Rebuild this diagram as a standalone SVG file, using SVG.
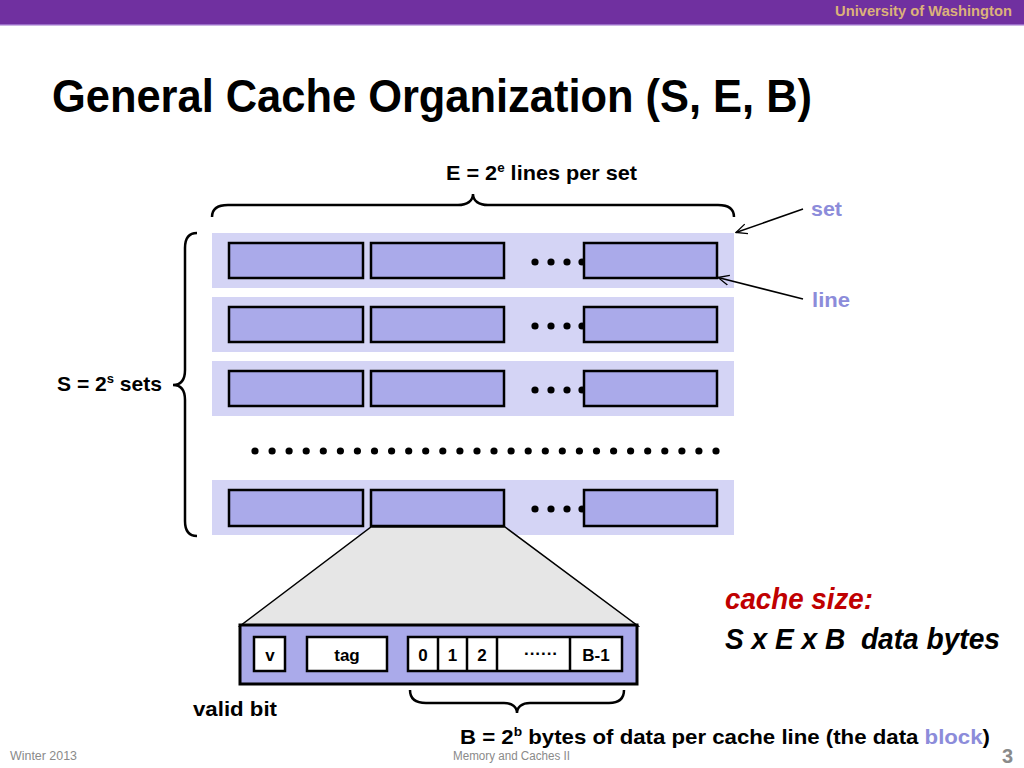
<svg xmlns="http://www.w3.org/2000/svg" width="1024" height="768" viewBox="0 0 1024 768">
<defs>
<style>
.t{font-family:"Liberation Sans",Arial,sans-serif;font-weight:bold;fill:#000}
.set{fill:#d4d4f5}
.ln{fill:#aaaaea;stroke:#000;stroke-width:2.5}
.wb{fill:#fff;stroke:#000;stroke-width:2.5}
.br{fill:none;stroke:#000;stroke-width:2.5}
.lab{fill:#8c8cda}
.ft{font-family:"Liberation Sans",Arial,sans-serif;fill:#8a8a8a}
</style>
<marker id="ah" viewBox="0 0 12 12" refX="11" refY="6" markerWidth="12" markerHeight="12" markerUnits="userSpaceOnUse" orient="auto">
<path d="M0,1 L11,6 L0,11" fill="none" stroke="#000" stroke-width="1.3"/>
</marker>
<g id="dots3">
<circle cx="535" cy="0" r="3.6"/><circle cx="551" cy="0" r="3.6"/><circle cx="567" cy="0" r="3.6"/><circle cx="582" cy="0" r="3.6"/>
</g>
</defs>
<rect width="1024" height="768" fill="#fff"/>
<g id="header">
<rect x="0" y="0" width="1024" height="24" fill="#7030a0"/>
<rect x="0" y="24" width="1024" height="1.5" fill="#9a6cc8"/>
<text x="1012" y="16" class="t" font-size="15" style="fill:#dcb27a" text-anchor="end" textLength="177" lengthAdjust="spacingAndGlyphs">University of Washington</text>
</g>
<text x="52" y="112" class="t" font-size="46" textLength="760" lengthAdjust="spacingAndGlyphs">General Cache Organization (S, E, B)</text>

<g id="set1">
<rect class="set" x="212" y="233" width="522" height="55"/>
<use href="#dots3" y="262"/>
<rect class="ln" x="229" y="243" width="134" height="35"/>
<rect class="ln" x="371" y="243" width="133" height="35"/>
<rect class="ln" x="584" y="243" width="133" height="35"/>
</g>
<g id="set2">
<rect class="set" x="212" y="297" width="522" height="55"/>
<use href="#dots3" y="326"/>
<rect class="ln" x="229" y="307" width="134" height="35"/>
<rect class="ln" x="371" y="307" width="133" height="35"/>
<rect class="ln" x="584" y="307" width="133" height="35"/>
</g>
<g id="set3">
<rect class="set" x="212" y="361" width="522" height="55"/>
<use href="#dots3" y="390"/>
<rect class="ln" x="229" y="371" width="134" height="35"/>
<rect class="ln" x="371" y="371" width="133" height="35"/>
<rect class="ln" x="584" y="371" width="133" height="35"/>
</g>
<g id="vdots">
<circle cx="255" cy="451" r="3.6"/><circle cx="272.1" cy="451" r="3.6"/><circle cx="289.1" cy="451" r="3.6"/><circle cx="306.2" cy="451" r="3.6"/><circle cx="323.3" cy="451" r="3.6"/><circle cx="340.4" cy="451" r="3.6"/><circle cx="357.4" cy="451" r="3.6"/><circle cx="374.5" cy="451" r="3.6"/><circle cx="391.6" cy="451" r="3.6"/><circle cx="408.7" cy="451" r="3.6"/><circle cx="425.7" cy="451" r="3.6"/><circle cx="442.8" cy="451" r="3.6"/><circle cx="459.9" cy="451" r="3.6"/><circle cx="477" cy="451" r="3.6"/><circle cx="494" cy="451" r="3.6"/><circle cx="511.1" cy="451" r="3.6"/><circle cx="528.2" cy="451" r="3.6"/><circle cx="545.3" cy="451" r="3.6"/><circle cx="562.3" cy="451" r="3.6"/><circle cx="579.4" cy="451" r="3.6"/><circle cx="596.5" cy="451" r="3.6"/><circle cx="613.6" cy="451" r="3.6"/><circle cx="630.6" cy="451" r="3.6"/><circle cx="647.7" cy="451" r="3.6"/><circle cx="664.8" cy="451" r="3.6"/><circle cx="681.9" cy="451" r="3.6"/><circle cx="698.9" cy="451" r="3.6"/><circle cx="716" cy="451" r="3.6"/>
</g>
<g id="setN">
<rect class="set" x="212" y="480" width="522" height="55"/>
<use href="#dots3" y="509"/>
<rect class="ln" x="229" y="490" width="134" height="36"/>
<rect class="ln" x="371" y="490" width="133" height="36"/>
<rect class="ln" x="584" y="490" width="133" height="36"/>
</g>

<g id="expand">
<polygon points="371,527 505,527 638,626 240,626" fill="#e6e6e6" stroke="#000" stroke-width="1.5"/>
</g>
<g id="line-detail">
<rect x="240" y="625" width="397" height="59" fill="#aaaaea" stroke="#000" stroke-width="3"/>
<rect class="wb" x="254" y="637" width="31" height="34"/>
<rect class="wb" x="307" y="637" width="80" height="34"/>
<rect class="wb" x="408" y="637" width="214" height="34"/>
<line x1="438" y1="637" x2="438" y2="671" stroke="#000" stroke-width="2.5"/>
<line x1="467" y1="637" x2="467" y2="671" stroke="#000" stroke-width="2.5"/>
<line x1="497" y1="637" x2="497" y2="671" stroke="#000" stroke-width="2.5"/>
<line x1="570" y1="637" x2="570" y2="671" stroke="#000" stroke-width="2.5"/>
<text class="t" font-size="17" text-anchor="middle" x="270" y="661">v</text>
<text class="t" font-size="17" text-anchor="middle" x="347" y="661">tag</text>
<text class="t" font-size="17" text-anchor="middle" x="423" y="661">0</text>
<text class="t" font-size="17" text-anchor="middle" x="452.5" y="661">1</text>
<text class="t" font-size="17" text-anchor="middle" x="482" y="661">2</text>
<text class="t" font-size="17" text-anchor="middle" x="541" y="659">······</text>
<text class="t" font-size="17" text-anchor="middle" x="596" y="661">B-1</text>
</g>

<g id="braces">
<path class="br" d="M212,217 C212,209 218,205 228,205 L458,205 C467,205 473,201 473,194 C473,201 479,205 488,205 L718,205 C728,205 734,209 734,217"/>
<path class="br" d="M197,233 C189,233 185,238 185,248 L185,370 C185,380 181,385 173,385 C181,385 185,390 185,400 L185,521 C185,531 189,536 197,536"/>
<path class="br" d="M410,690 C410,699 416,703 426,703 L504,703 C512,703 517,707 517,713 C517,707 522,703 530,703 L609,703 C619,703 624,699 624,690"/>
</g>

<g id="connectors">
<line x1="803" y1="209" x2="736" y2="232.5" stroke="#000" stroke-width="1.5" marker-end="url(#ah)"/>
<line x1="803" y1="299" x2="718" y2="277.5" stroke="#000" stroke-width="1.5" marker-end="url(#ah)"/>
</g>

<g id="labels">
<text class="t" font-size="21" x="446" y="180" textLength="191" lengthAdjust="spacingAndGlyphs">E = 2<tspan font-size="13" dy="-8">e</tspan><tspan dy="8"> lines per set</tspan></text>
<text class="t" font-size="21" x="57" y="391" textLength="105" lengthAdjust="spacingAndGlyphs">S = 2<tspan font-size="13" dy="-8">s</tspan><tspan dy="8"> sets</tspan></text>
<text class="t lab" font-size="21" x="811" y="216" style="fill:#8c8cda" textLength="31" lengthAdjust="spacingAndGlyphs">set</text>
<text class="t lab" font-size="21" x="812" y="307" style="fill:#8c8cda" textLength="38" lengthAdjust="spacingAndGlyphs">line</text>
<text class="t" font-size="21" x="193" y="716" textLength="84" lengthAdjust="spacingAndGlyphs">valid bit</text>
<text class="t" font-size="21" x="460" y="744" textLength="530" lengthAdjust="spacingAndGlyphs">B = 2<tspan font-size="13" dy="-8">b</tspan><tspan dy="8"> bytes of data per cache line (the data </tspan><tspan style="fill:#8c8cda">block</tspan>)</text>
<text class="t" font-size="29" font-style="italic" x="725" y="609" style="fill:#c00000" textLength="148" lengthAdjust="spacingAndGlyphs">cache size:</text>
<text class="t" font-size="29" font-style="italic" x="725" y="649" textLength="275" lengthAdjust="spacingAndGlyphs" xml:space="preserve">S x E x B  data bytes</text>
</g>

<g id="footer">
<text class="ft" font-size="12" x="10" y="760" textLength="67" lengthAdjust="spacingAndGlyphs">Winter 2013</text>
<text class="ft" font-size="12" x="453" y="760" textLength="117" lengthAdjust="spacingAndGlyphs">Memory and Caches II</text>
<text class="ft" font-size="20" font-weight="bold" x="1002" y="763">3</text>
</g>
</svg>
